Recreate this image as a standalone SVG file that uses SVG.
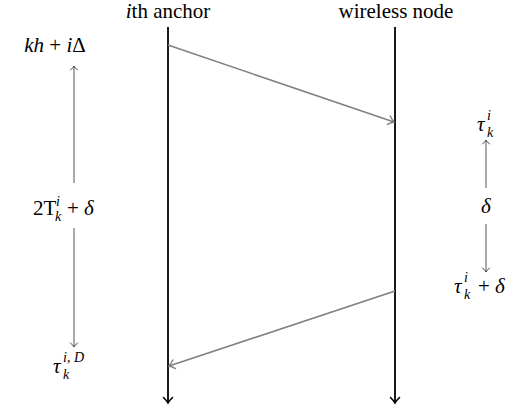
<svg xmlns="http://www.w3.org/2000/svg" width="518" height="411" viewBox="0 0 518 411" font-family="Liberation Serif">
<defs>
<marker id="hb" markerWidth="12" markerHeight="12" refX="0" refY="0" viewBox="-7 -6 8 12" orient="auto" markerUnits="userSpaceOnUse">
<path d="M-5.5,-4.5 Q-2,-1 0,0 Q-2,1 -5.5,4.5" stroke="#000" stroke-width="1.6" fill="none" stroke-linecap="round"/>
</marker>
<marker id="hg" markerWidth="12" markerHeight="12" refX="0" refY="0" viewBox="-7 -6 8 12" orient="auto" markerUnits="userSpaceOnUse">
<path d="M-5.5,-4.5 Q-2,-1 0,0 Q-2,1 -5.5,4.5" stroke="#808080" stroke-width="1.4" fill="none" stroke-linecap="round"/>
</marker>
<marker id="hd" markerWidth="10" markerHeight="10" refX="0" refY="0" viewBox="-6 -5 7 10" orient="auto" markerUnits="userSpaceOnUse">
<path d="M-4,-3.5 Q-1.5,-0.8 0,0 Q-1.5,0.8 -4,3.5" stroke="#444" stroke-width="1" fill="none" stroke-linecap="round"/>
</marker>
</defs>
<g id="anchor">
<text x="168" y="18" text-anchor="middle" font-family="Liberation Serif" font-size="21"><tspan font-style="italic">i</tspan>th anchor</text>
<line x1="168" y1="27" x2="168" y2="403" stroke="#000" stroke-width="1.8" marker-end="url(#hb)"/>
</g>
<g id="wireless">
<text x="396" y="18" text-anchor="middle" font-family="Liberation Serif" font-size="21">wireless node</text>
<line x1="395" y1="27" x2="395" y2="403" stroke="#000" stroke-width="1.8" marker-end="url(#hb)"/>
</g>
<g id="left-labels">
<text x="55" y="52" text-anchor="middle" font-family="Liberation Serif" font-size="21"><tspan font-style="italic">kh</tspan> + <tspan font-style="italic">i</tspan>Δ</text>
<text x="33" y="215" font-family="Liberation Serif" font-size="21">2T</text>
<text x="56" y="206" font-family="Liberation Serif" font-size="14" font-style="italic">i</text>
<text x="55" y="221" font-family="Liberation Serif" font-size="14" font-style="italic">k</text>
<text x="67" y="215" font-family="Liberation Serif" font-size="21">+ <tspan font-style="italic">δ</tspan></text>
<text x="53" y="373" font-family="Liberation Serif" font-size="21" font-style="italic">τ</text>
<text x="63" y="362" font-family="Liberation Serif" font-size="14" font-style="italic">i, D</text>
<text x="63" y="379" font-family="Liberation Serif" font-size="14" font-style="italic">k</text>
</g>
<g id="right-labels">
<text x="477" y="131" font-family="Liberation Serif" font-size="21" font-style="italic">τ</text>
<text x="487" y="120" font-family="Liberation Serif" font-size="14" font-style="italic">i</text>
<text x="487" y="137" font-family="Liberation Serif" font-size="14" font-style="italic">k</text>
<text x="486" y="213" text-anchor="middle" font-family="Liberation Serif" font-size="21" font-style="italic">δ</text>
<text x="454" y="293" font-family="Liberation Serif" font-size="21" font-style="italic">τ</text>
<text x="464" y="282" font-family="Liberation Serif" font-size="14" font-style="italic">i</text>
<text x="464" y="299" font-family="Liberation Serif" font-size="14" font-style="italic">k</text>
<text x="478" y="293" font-family="Liberation Serif" font-size="21">+ <tspan font-style="italic">δ</tspan></text>
</g>
<g id="connectors" fill="none">
<line x1="168" y1="45" x2="394" y2="122" stroke="#808080" stroke-width="1.6" marker-end="url(#hg)"/>
<line x1="395" y1="291" x2="169" y2="366" stroke="#808080" stroke-width="1.6" marker-end="url(#hg)"/>
<line x1="74" y1="183" x2="74" y2="66" stroke="#555" stroke-width="1" marker-end="url(#hd)"/>
<line x1="74" y1="228" x2="74" y2="347" stroke="#555" stroke-width="1" marker-end="url(#hd)"/>
<line x1="486" y1="188" x2="486" y2="140" stroke="#555" stroke-width="1" marker-end="url(#hd)"/>
<line x1="486" y1="224" x2="486" y2="272" stroke="#555" stroke-width="1" marker-end="url(#hd)"/>
</g>
</svg>
